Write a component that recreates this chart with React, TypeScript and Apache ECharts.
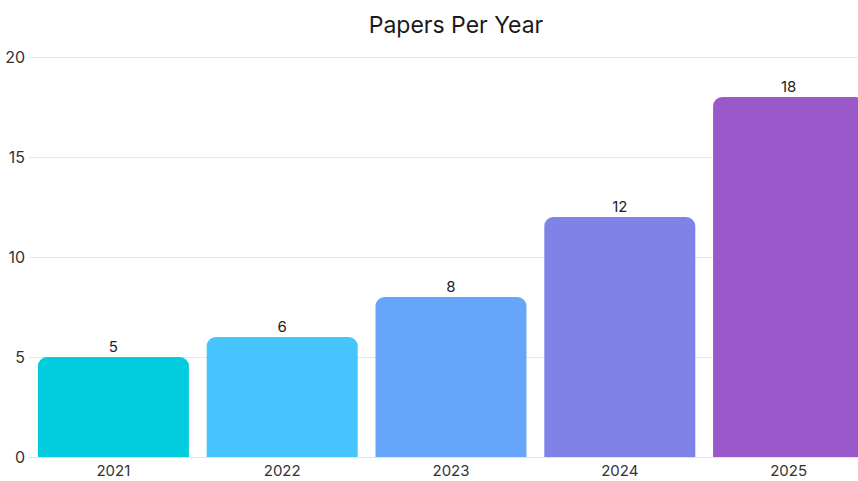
import React, { useEffect, useRef } from "react";
import * as echarts from "echarts";

const years = ["2021", "2022", "2023", "2024", "2025"];
const papers = [5, 6, 8, 12, 18];
const barColors = ["#00CCDD", "#46C4FE", "#66A6FA", "#7F83E8", "#9A58CB"];
const yTicks = { min: 0, max: 20, interval: 5 };

export default function App() {
  const ref = useRef<HTMLDivElement>(null);
  useEffect(() => {
    if (!ref.current) return;
    const chart = echarts.init(ref.current, undefined, { renderer: "svg" });
    const font = "Inter, 'Open Sans', sans-serif";
    chart.setOption({
      animation: false,
      title: {
        text: "Papers Per Year",
        left: 451,
        textAlign: "center",
        top: 8,
        textStyle: { fontFamily: font, fontSize: 23, fontWeight: "normal", color: "#1a1a1a" },
      },
      grid: { left: 29, right: 0, top: 57, bottom: 24, containLabel: false },
      xAxis: {
        type: "category",
        data: years,
        axisTick: { show: false },
        axisLine: { lineStyle: { color: "#e3e3e3" } },
        axisLabel: { fontFamily: font, fontSize: 15, color: "#333", margin: 6 },
      },
      yAxis: {
        type: "value",
        min: yTicks.min,
        max: yTicks.max,
        interval: yTicks.interval,
        axisLine: { show: false },
        axisTick: { show: false },
        splitLine: { lineStyle: { color: "#e6e6e6" } },
        axisLabel: { fontFamily: font, fontSize: 16, color: "#333", margin: 4 },
      },
      series: [
        {
          type: "bar",
          barWidth: 151,
          data: papers.map((v, i) => ({ value: v, itemStyle: { color: barColors[i] } })),
          itemStyle: { borderRadius: [9, 9, 0, 0] },
          label: {
            show: true,
            position: "top",
            distance: 3,
            fontFamily: font,
            fontSize: 15,
            color: "#222",
          },
        },
      ],
    });
    return () => chart.dispose();
  }, []);
  return (
    <div style={{ width: 858, height: 481, position: "absolute", left: 0, top: 0, overflow: "hidden" }}>
      <div ref={ref} style={{ width: 873, height: 481 }} />
    </div>
  );
}
